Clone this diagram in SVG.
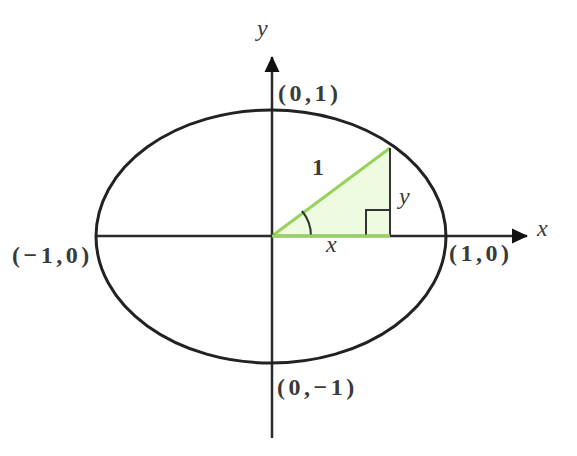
<svg xmlns="http://www.w3.org/2000/svg" width="577" height="456" viewBox="0 0 577 456">
<style>
.ax{stroke:#2b2b2b;stroke-width:2.5;fill:none}
.thin{stroke:#333;stroke-width:2;fill:none}
.g{stroke:#95d35a;stroke-width:3;fill:none}
.t{font-family:"Liberation Serif",serif;font-size:24px;font-weight:bold;fill:#3a3a3a;letter-spacing:3.5px}
.i{font-style:italic;font-weight:normal;letter-spacing:0}
</style>
<defs>
<marker id="ah2" markerWidth="16" markerHeight="16" refX="15" refY="8" orient="auto" markerUnits="userSpaceOnUse" viewBox="0 0 16 16">
<path d="M0,0.5 L16,8 L0,15.5 Z" fill="#111"/>
</marker>
</defs>
<rect width="577" height="456" fill="#fff"/>
<g id="triangle">
<polygon points="272,236 390,148 390,236" fill="#eefbe0"/>
<line class="g" x1="272" y1="236" x2="390" y2="148"/>
<line class="thin" x1="390" y1="148" x2="390" y2="236"/>
<polyline class="thin" points="366,236 366,210 390,210"/>
<path class="thin" stroke-width="2.5" d="M 311 236 A 39 39 0 0 0 302 211"/>
</g>
<g id="connectors">
<line class="ax" x1="95" y1="236" x2="527" y2="236" marker-end="url(#ah2)"/>
<line class="ax" x1="272" y1="438" x2="272" y2="57" marker-end="url(#ah2)"/>
<line class="g" x1="272" y1="236" x2="390" y2="236"/>
</g>
<g id="ellipse">
<ellipse cx="271" cy="236.5" rx="175" ry="126.5" stroke="#222" stroke-width="3" fill="none"/>
</g>
<g id="labels">
<text class="t i" x="257" y="36">y</text>
<text class="t" x="278" y="101">(0,1)</text>
<text class="t" x="312" y="175">1</text>
<text class="t i" x="399" y="204">y</text>
<text class="t i" x="326" y="252">x</text>
<text class="t i" x="537" y="236">x</text>
<text class="t" x="449" y="261">(1,0)</text>
<text class="t" x="12" y="263">(−1,0)</text>
<text class="t" x="277" y="395">(0,−1)</text>
</g>
</svg>
